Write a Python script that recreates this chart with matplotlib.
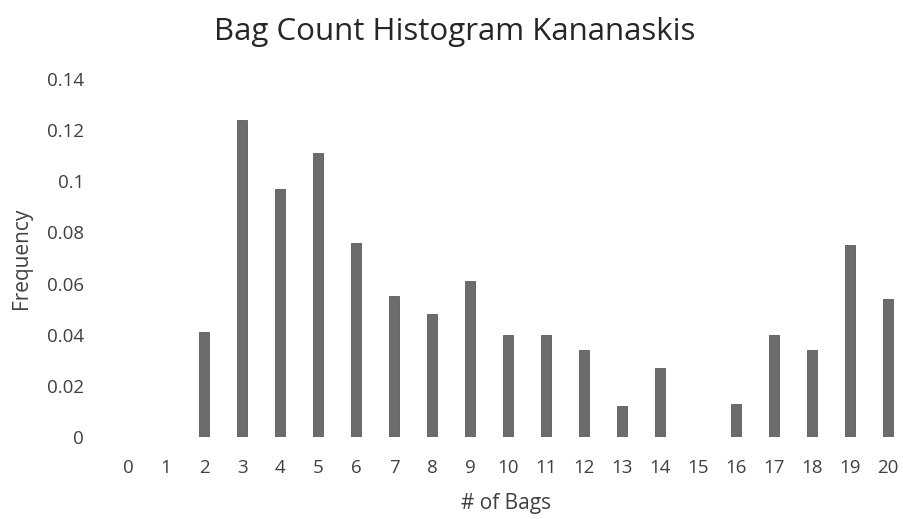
import numpy as np
import matplotlib
matplotlib.use("Agg")
import matplotlib.pyplot as plt

# data
bags = list(range(0, 21))
freq = [0, 0, 0.041, 0.124, 0.097, 0.111, 0.076, 0.055, 0.048, 0.061, 0.040,
        0.040, 0.034, 0.012, 0.027, 0, 0.013, 0.040, 0.034, 0.075, 0.054]
yticks = [0, 0.02, 0.04, 0.06, 0.08, 0.1, 0.12, 0.14]
ylabels = ["0", "0.02", "0.04", "0.06", "0.08", "0.1", "0.12", "0.14"]

plt.rcParams['font.family'] = ['Open Sans', 'DejaVu Sans']
txt = '#404040'

fig = plt.figure(figsize=(9.04, 5.19), dpi=100)
ax = fig.add_axes([109/904, 82/519, 795/904, 358/519])

ax.bar(bags, freq, width=0.27, color='#6c6c6c', edgecolor='#5a5a5a', linewidth=0.6)

ax.set_xlim(-0.5, 20.42)
ax.set_ylim(0, 0.14)
ax.set_xticks(bags)
ax.set_xticklabels([str(b) for b in bags])
ax.set_yticks(yticks)
ax.set_yticklabels(ylabels)
ax.tick_params(axis='both', length=0, labelsize=13.5, colors=txt)
ax.tick_params(axis='y', pad=18)
ax.tick_params(axis='x', pad=16)
for s in ax.spines.values():
    s.set_visible(False)

ax.set_xlabel('# of Bags', fontsize=15, color=txt, labelpad=11)
ax.set_ylabel('Frequency', fontsize=15, color=txt, labelpad=11)
fig.text(455/904, 1 - 32/519, 'Bag Count Histogram Kananaskis', ha='center', va='center',
         fontsize=22.5, color='#262626')

fig.savefig('out.png', dpi=100)
